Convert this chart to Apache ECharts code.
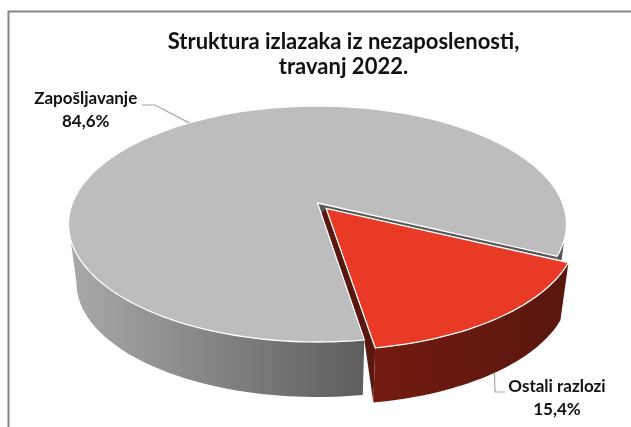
<!DOCTYPE html>
<html><head><meta charset="utf-8">
<style>html,body{margin:0;padding:0;background:#fff}#c{width:631px;height:427px}</style>
<script src="https://cdn.jsdelivr.net/npm/echarts@6/dist/echarts.min.js"></script>
</head><body><div id="c"></div>
<script>
// ---- data ----
const categories = ['Zapošljavanje', 'Ostali razlozi'];
const values = [84.6, 15.4];
const titleLines = ['Struktura izlazaka iz nezaposlenosti,', 'travanj 2022.'];

// ---- look ----
const firstSliceAngle = 25.5;            // where "Ostali razlozi" starts, clockwise from east
const tilt = 0.178;                      // perspective shift of the pie centre
const topEll = {cx: 317.5, cy: 224, rx: 249, ry: 118};
const lowEll = {cx: 317.5, cy: 283, rx: 241, ry: 114};
const explode = [0, 0.058];
const topColors = ['#bdbdbd', '#e83a25'];
const wallGrad = [
  {x: 69, x2: 362, c: ['#a9a9a9', '#5e5e5e']},
  {x: 374, x2: 566, c: ['#731b10', '#59170e']}
];
const labelPos = [[85.7, 110.5], [557, 398.5]];
const leaderBend = [[[155, 105], [142, 105]], [[495, 392], [505, 392]]];
const labelFont = 'bold 17px Lato';

// ---- geometry ----
const sTilt = Math.sqrt(1 - tilt * tilt);
const rad = d => d * Math.PI / 180;
function proj(a, b, e) {
  const d = 1 - tilt * b;
  return [e.cx + e.rx * a * sTilt / d, e.cy + e.ry * (b - tilt) / d];
}
const total = values.reduce((a, b) => a + b, 0);
// slices run clockwise: index 1 starts at firstSliceAngle, index 0 follows it
const sweep = values.map(v => v / total * 360);
const spans = [
  [firstSliceAngle + sweep[1], firstSliceAngle + sweep[1] + sweep[0]],
  [firstSliceAngle, firstSliceAngle + sweep[1]]
];
function off(i) {
  const m = rad((spans[i][0] + spans[i][1]) / 2);
  return [Math.cos(m) * explode[i], Math.sin(m) * explode[i]];
}
function rim(i, t, e) {
  const o = off(i);
  return proj(Math.cos(rad(t)) + o[0], Math.sin(rad(t)) + o[1], e);
}
function apex(i, e) { const o = off(i); return proj(o[0], o[1], e); }
function arc(i, t0, t1, e) {
  const pts = [], n = Math.max(2, Math.ceil(Math.abs(t1 - t0) / 1.5));
  for (let k = 0; k <= n; k++) pts.push(rim(i, t0 + (t1 - t0) * k / n, e));
  return pts;
}
const frontA = Math.atan2(tilt, sTilt) * 180 / Math.PI, frontB = 180 - frontA;
function frontParts(i) {
  const parts = [];
  for (const k of [0, 1]) {
    const a = Math.max(spans[i][0], frontA + 360 * k), b = Math.min(spans[i][1], frontB + 360 * k);
    if (b > a) parts.push([a, b]);
  }
  return parts;
}
function grad(w) {
  return {type: 'linear', x: w.x, y: 0, x2: w.x2, y2: 0, global: true,
    colorStops: [{offset: 0, color: w.c[0]}, {offset: 1, color: w.c[1]}]};
}

function renderWalls(params, api) {
  const i = api.value(0), children = [];
  if (i === 0) {
    const t = spans[0][1];   // cut face towards the exploded slice
    children.push({type: 'polygon', shape: {points: [
      apex(0, topEll), rim(0, t, topEll), rim(0, t, lowEll),
      [apex(0, topEll)[0], apex(0, topEll)[1] + 59]]}, style: {fill: '#565656'}});
  } else {
    const t = spans[1][1];   // visible cut face of the exploded slice
    const gA = apex(0, topEll), gM = rim(0, spans[0][0], topEll);
    const near = [gA[0] + (gM[0] - gA[0]) * 0.08, gA[1] + (gM[1] - gA[1]) * 0.08];
    children.push({type: 'polygon', shape: {points: [
      apex(1, topEll), rim(1, t, topEll), rim(1, t, lowEll), gM, near]},
      style: {fill: '#5a170e'}});
  }
  frontParts(i).forEach(p => {
    const right = p[0] >= 360;
    children.push({type: 'polygon',
      shape: {points: arc(i, p[0], p[1], topEll).concat(arc(i, p[1], p[0], lowEll))},
      style: {fill: right ? '#565656' : grad(wallGrad[i])}});
  });
  return {type: 'group', children};
}

function renderTops(params, api) {
  const i = api.value(0), children = [];
  const sp = spans[i];
  children.push({type: 'polygon',
    shape: {points: [apex(i, topEll)].concat(arc(i, sp[0], sp[1], topEll))},
    style: {fill: topColors[i], stroke: '#ffffff', lineWidth: 1.3, lineJoin: 'miter'}});
  const m = (sp[0] + sp[1]) / 2;
  const anchor = rim(i, m, i === 0 ? topEll : lowEll);
  children.push({type: 'polyline', shape: {points: [anchor].concat(leaderBend[i])},
    style: {stroke: '#a6a6a6', lineWidth: 1.2, fill: null}});
  children.push({type: 'text', style: {
    text: categories[i] + '\n' + String(values[i]).replace('.', ',') + '%',
    x: labelPos[i][0], y: labelPos[i][1], align: 'center', verticalAlign: 'middle',
    font: labelFont, lineHeight: 23, fill: '#111111'}});
  return {type: 'group', children};
}

const seriesData = categories.map((c, i) => ({name: c, value: [i, values[i]]}));
const chart = echarts.init(document.getElementById('c'), null, {renderer: 'canvas'});
chart.setOption({
  animation: false,
  backgroundColor: '#ffffff',
  title: {
    text: titleLines.join('\n'),
    left: 338.5, top: 24, textAlign: 'center',
    textStyle: {fontFamily: 'Lato', fontWeight: 'bold', fontSize: 22, lineHeight: 25, color: '#111111'}
  },
  graphic: [{type: 'polyline', silent: true,
    shape: {points: [[8.5, 427], [8.5, 11.5], [631, 11.5]]},
    style: {stroke: '#858585', lineWidth: 2, fill: null}}],
  series: [
    {type: 'custom', coordinateSystem: 'none', z: 2, silent: true, renderItem: renderWalls, data: seriesData},
    {type: 'custom', coordinateSystem: 'none', z: 3, silent: true, renderItem: renderTops, data: seriesData}
  ]
});
</script></body></html>
